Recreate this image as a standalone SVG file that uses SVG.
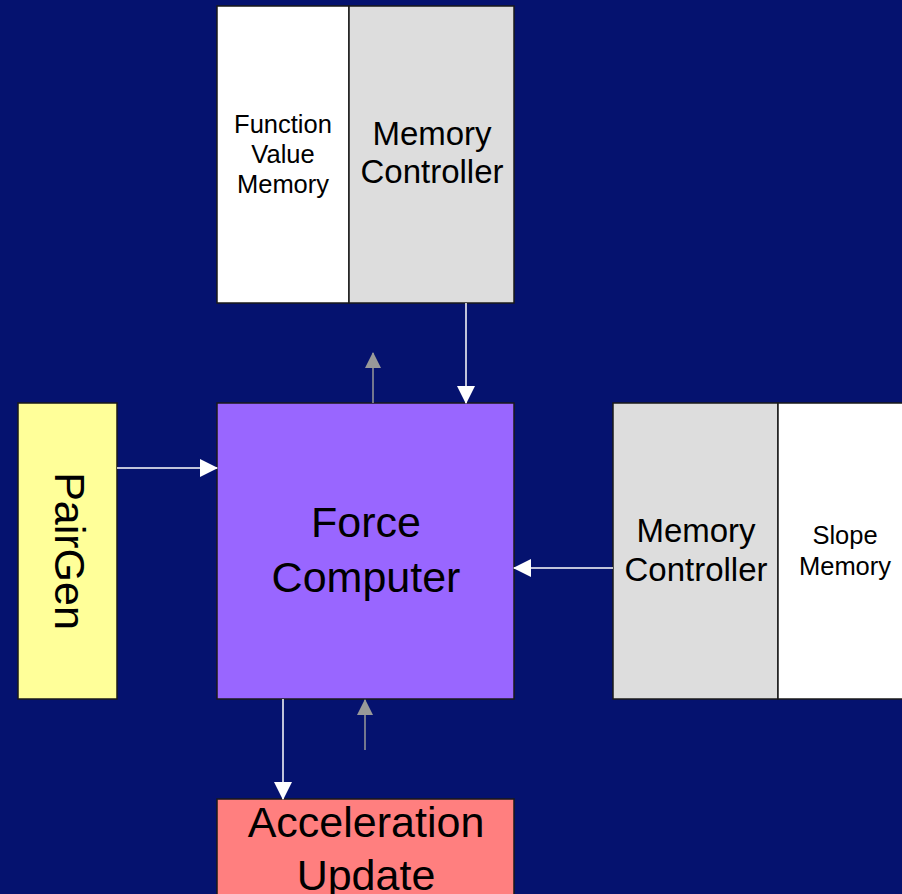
<svg xmlns="http://www.w3.org/2000/svg" width="902" height="894" viewBox="0 0 902 894">
  <style>
    .box { stroke: #1a1a1a; stroke-width: 1.5; }
    .lbl { font-family: "Liberation Sans", Arial, sans-serif; fill: #000; text-anchor: middle; }
    .big { font-size: 43px; }
    .mid { font-size: 33px; }
    .small { font-size: 25.5px; }
    .wire { stroke: #ffffff; stroke-width: 1.5; fill: none; }
    .wire-gray { stroke: #999999; stroke-width: 1.5; fill: none; }
  </style>
  <defs>
    <marker id="head-white" markerUnits="userSpaceOnUse" markerWidth="18" markerHeight="18" viewBox="0 0 18 18" refX="17" refY="9" orient="auto">
      <path d="M0,0 L18,9 L0,18 Z" fill="#ffffff"/>
    </marker>
    <marker id="head-gray" markerUnits="userSpaceOnUse" markerWidth="16" markerHeight="16" viewBox="0 0 16 16" refX="15" refY="8" orient="auto">
      <path d="M0,0 L16,8 L0,16 Z" fill="#999999"/>
    </marker>
  </defs>

  <rect width="902" height="894" fill="#05126F"/>

  <g id="function-memory">
    <rect class="box" x="217" y="6" width="132" height="297" fill="#ffffff"/>
    <text class="lbl small" x="283" y="133">Function</text>
    <text class="lbl small" x="283" y="163">Value</text>
    <text class="lbl small" x="283" y="193">Memory</text>
  </g>

  <g id="top-memory-controller">
    <rect class="box" x="349" y="6" width="165" height="297" fill="#dddddd"/>
    <text class="lbl mid" x="432" y="145">Memory</text>
    <text class="lbl mid" x="432" y="183">Controller</text>
  </g>

  <g id="pairgen">
    <rect class="box" x="18" y="403" width="99" height="296" fill="#ffff99"/>
    <text class="lbl big" transform="translate(55,551) rotate(90)" x="0" y="0">PairGen</text>
  </g>

  <g id="force-computer">
    <rect class="box" x="217" y="403" width="297" height="296" fill="#9966ff"/>
    <text class="lbl big" x="366" y="537">Force</text>
    <text class="lbl big" x="366" y="592">Computer</text>
  </g>

  <g id="right-memory-controller">
    <rect class="box" x="613" y="403" width="165" height="296" fill="#dddddd"/>
    <text class="lbl mid" x="696" y="542">Memory</text>
    <text class="lbl mid" x="696" y="581">Controller</text>
  </g>

  <g id="slope-memory">
    <rect class="box" x="778" y="403" width="130" height="296" fill="#ffffff"/>
    <text class="lbl small" x="845" y="544">Slope</text>
    <text class="lbl small" x="845" y="575">Memory</text>
  </g>

  <g id="acceleration-update">
    <rect class="box" x="217" y="799" width="297" height="100" fill="#ff7f7f"/>
    <text class="lbl big" x="366" y="837">Acceleration</text>
    <text class="lbl big" x="366" y="890">Update</text>
  </g>

  <g id="connectors">
    <line class="wire" x1="466" y1="303" x2="466" y2="403" marker-end="url(#head-white)"/>
    <line class="wire-gray" x1="373" y1="403" x2="373" y2="353" marker-end="url(#head-gray)"/>
    <line class="wire" x1="117" y1="468" x2="217" y2="468" marker-end="url(#head-white)"/>
    <line class="wire" x1="613" y1="568" x2="514" y2="568" marker-end="url(#head-white)"/>
    <line class="wire" x1="283" y1="699" x2="283" y2="799" marker-end="url(#head-white)"/>
    <line class="wire-gray" x1="365" y1="750" x2="365" y2="700" marker-end="url(#head-gray)"/>
  </g>
</svg>
